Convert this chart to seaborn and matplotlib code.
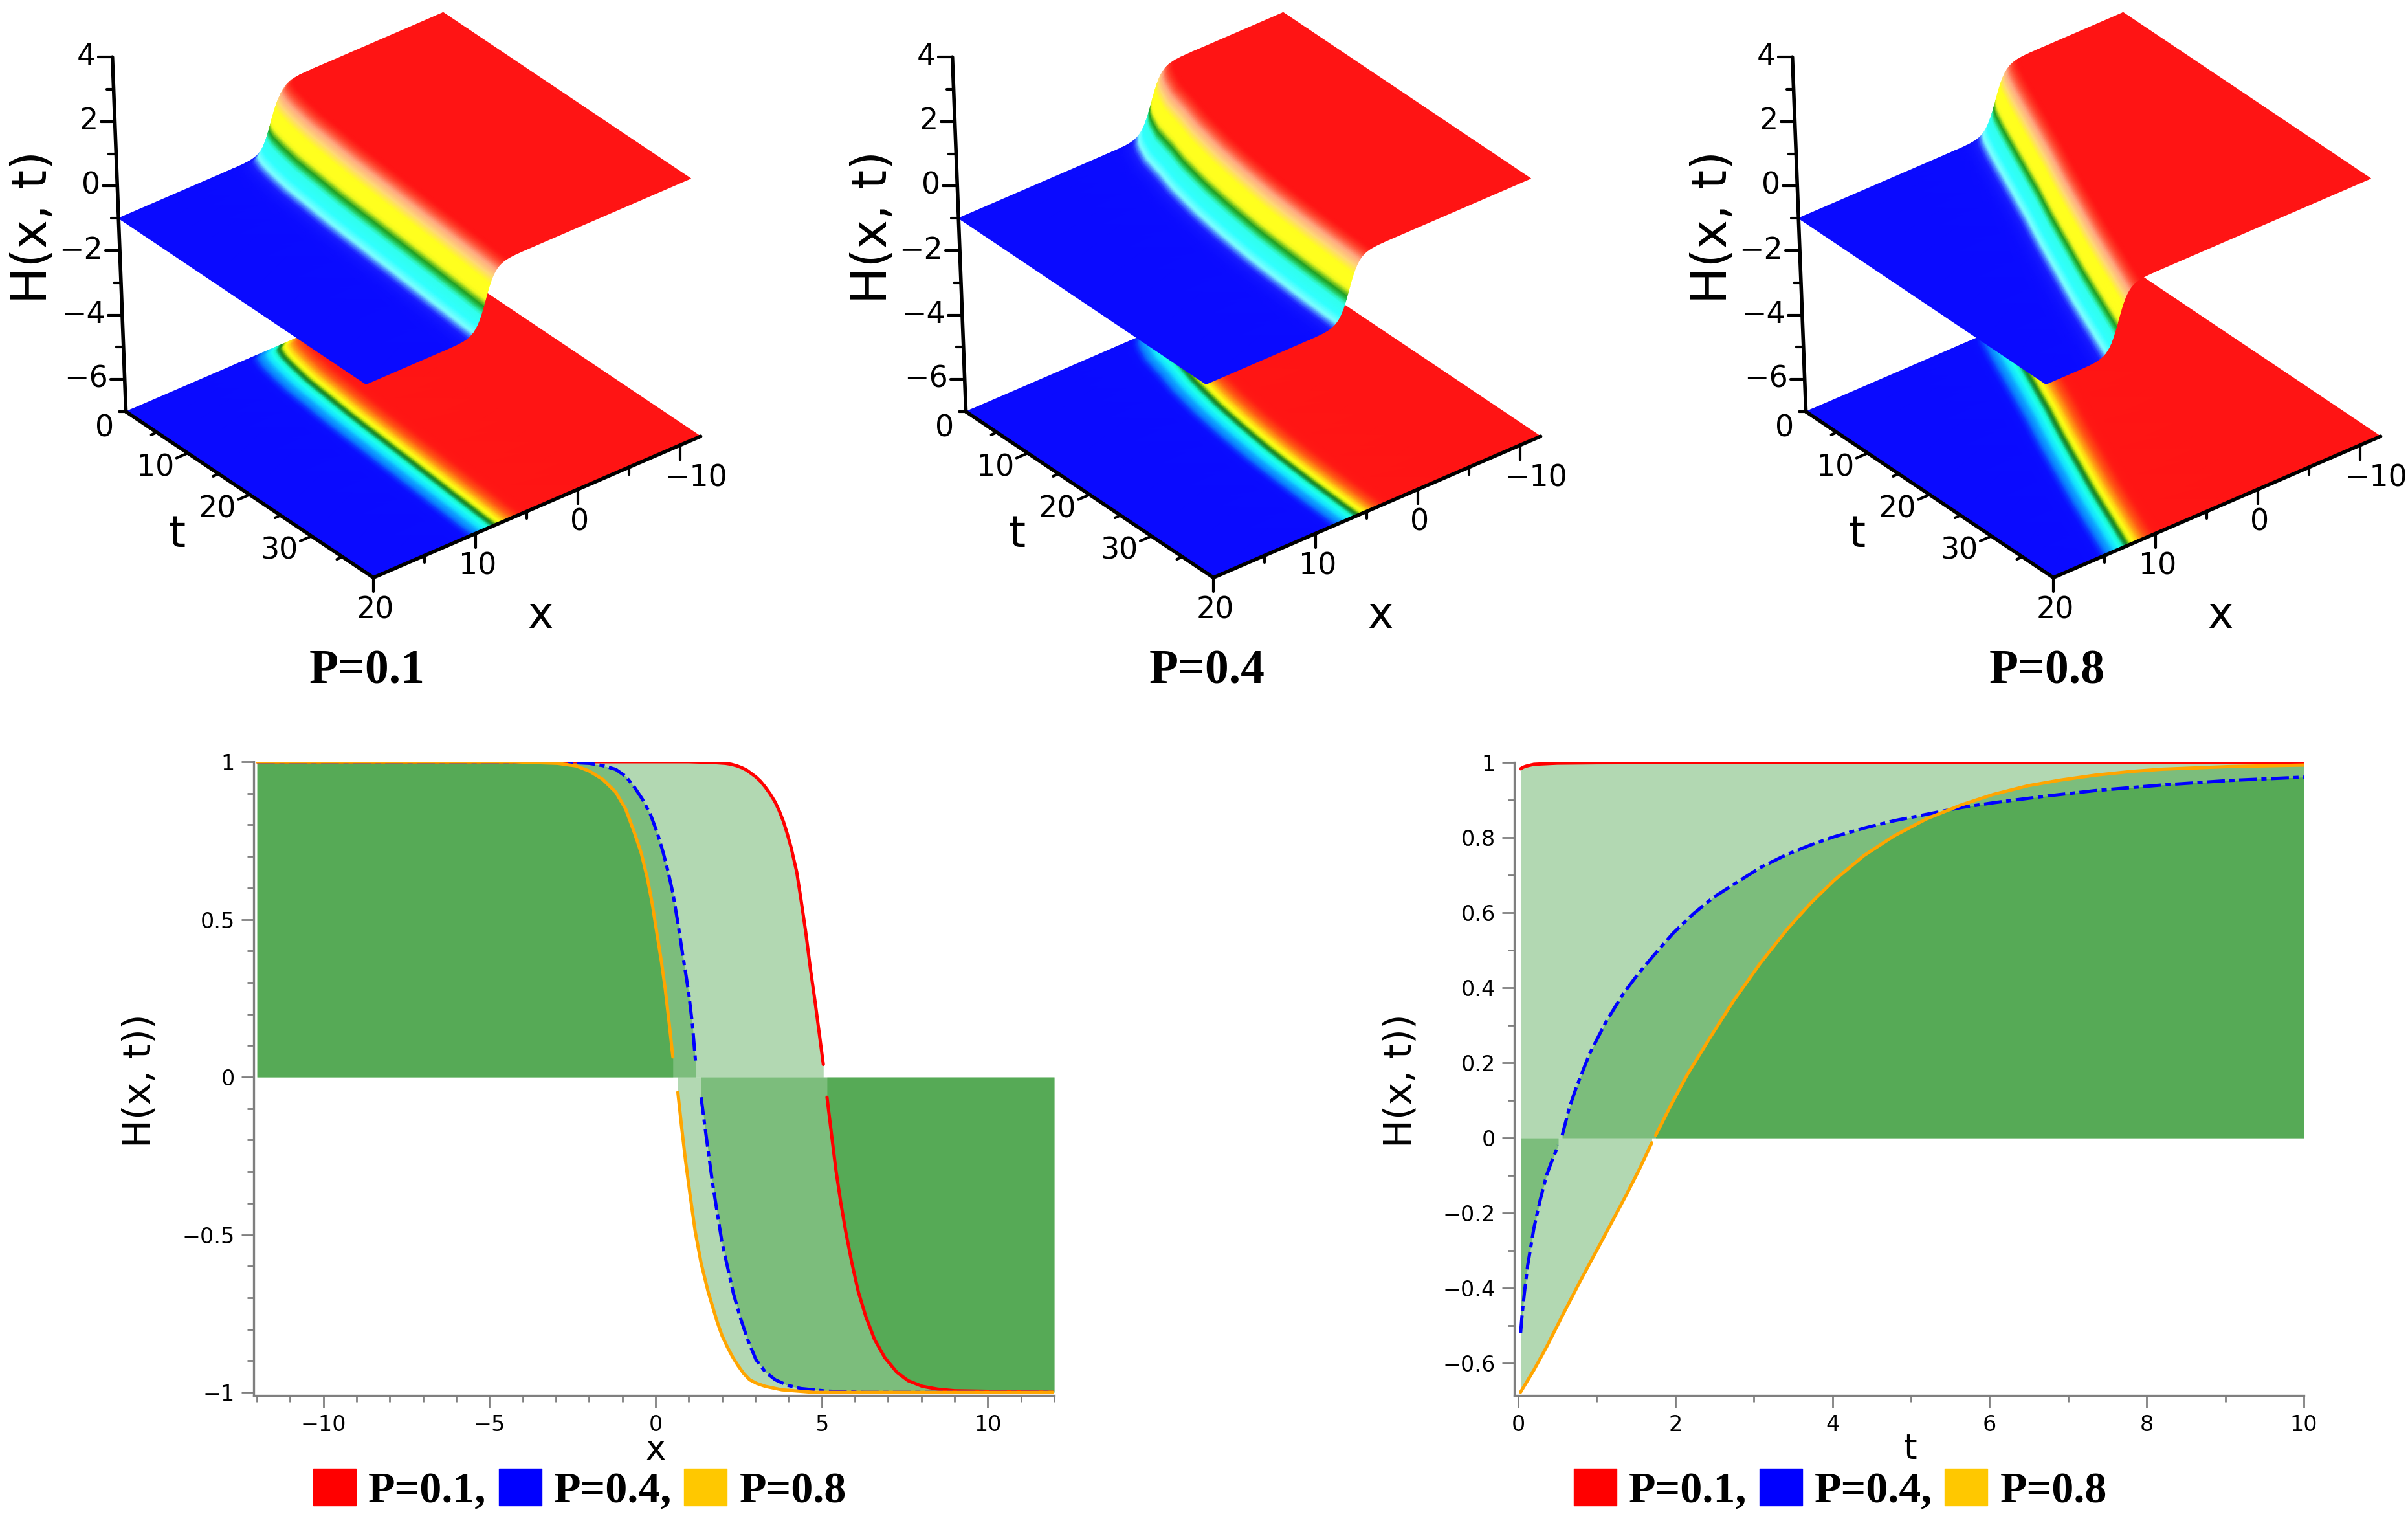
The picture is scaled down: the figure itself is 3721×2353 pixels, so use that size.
import numpy as np
import matplotlib
matplotlib.use('Agg')
import matplotlib.pyplot as plt
import seaborn as sns
from matplotlib.colors import LinearSegmentedColormap
from matplotlib.patches import Patch
from matplotlib.ticker import MultipleLocator

# ---- data ----
P_labels = ['P=0.1', 'P=0.4', 'P=0.8']

# front position x_c(t) of the surfaces
t_nodes = [0, 0.5, 1, 2, 4, 7, 10, 15, 20, 25, 30, 35, 40]
front_p01 = [4.8, 5.3, 5.5, 5.75, 6.05, 6.4, 6.6, 6.95, 7.2, 7.45, 7.7, 7.95, 8.2]
front_p04 = [1.0, 1.3, 1.6, 2.0, 2.6, 3.1, 3.7, 4.4, 4.9, 5.3, 5.55, 5.75, 5.9]
front_p08 = [0.6, 0.85, 1.1, 1.45, 2.1, 3.0, 3.9, 5.4, 7.0, 8.5, 10.0, 11.4, 12.8]

# step shape around the front
step_offset = [-4, -3.5, -3, -2.75, -2.5, -2.25, -2, -1.8, -1.6, -1.5, -1.4, -1.3, -1.2, -1.1, -1, -0.9, -0.8, -0.7,
               -0.6, -0.5, -0.4, -0.3, -0.2, -0.1, 0, 0.1, 0.2, 0.3, 0.4, 0.5, 0.6, 0.7, 0.8, 0.9, 1, 1.1, 1.2, 1.3,
               1.4, 1.5, 1.6, 1.8, 2, 2.25, 2.5, 2.75, 3, 3.5, 4]
step_H = [0.998, 0.996, 0.991, 0.986, 0.978, 0.966, 0.947, 0.925, 0.894, 0.874, 0.851, 0.824, 0.793, 0.757, 0.716,
          0.67, 0.617, 0.558, 0.493, 0.422, 0.345, 0.264, 0.178, 0.09, 0, -0.09, -0.178, -0.264, -0.345, -0.422,
          -0.493, -0.558, -0.617, -0.67, -0.716, -0.757, -0.793, -0.824, -0.851, -0.874, -0.894, -0.925, -0.947,
          -0.966, -0.978, -0.986, -0.991, -0.996, -0.998]

# profile at fixed t (left plot), split where the curves break at H=0
x_red_up = [-12, 1, 1.68, 2.1, 2.28, 2.45, 2.6, 2.75, 2.88, 3.02, 3.16, 3.3, 3.45, 3.6, 3.72, 3.85, 3.96, 4.08, 4.25, 4.37, 4.52, 4.66, 4.8, 4.91, 5.05]
h_red_up = [1, 1, 0.998, 0.995, 0.992, 0.987, 0.981, 0.973, 0.963, 0.952, 0.938, 0.92, 0.898, 0.872, 0.845, 0.81, 0.773, 0.728, 0.65, 0.568, 0.46, 0.344, 0.24, 0.152, 0.04]
x_red_lo = [5.16, 5.3, 5.43, 5.57, 5.72, 5.9, 6.1, 6.33, 6.59, 6.9, 7.26, 7.6, 8.03, 8.5, 9, 12]
h_red_lo = [-0.064, -0.185, -0.296, -0.395, -0.488, -0.585, -0.68, -0.76, -0.832, -0.89, -0.936, -0.963, -0.981, -0.99, -0.995, -1]

x_blue_up = [-12, -2.95, -2, -1.6, -1.2, -0.9, -0.64, -0.4, -0.15, 0.05, 0.23, 0.38, 0.52, 0.67, 0.81, 0.92, 1.0, 1.11, 1.21]
h_blue_up = [1, 1, 0.995, 0.988, 0.976, 0.954, 0.92, 0.882, 0.832, 0.775, 0.712, 0.65, 0.584, 0.49, 0.392, 0.32, 0.264, 0.165, 0.04]
x_blue_lo = [1.37, 1.47, 1.58, 1.72, 1.87, 2.0, 2.16, 2.34, 2.54, 2.78, 3.02, 3.3, 3.6, 3.95, 4.37, 5.14, 6.3, 12]
h_blue_lo = [-0.064, -0.145, -0.232, -0.34, -0.44, -0.525, -0.6, -0.685, -0.76, -0.835, -0.896, -0.935, -0.96, -0.977, -0.988, -0.996, -1, -1]

x_orange_up = [-12, -4.3, -2.95, -2.4, -2, -1.6, -1.2, -0.9, -0.64, -0.43, -0.25, -0.1, 0.04, 0.17, 0.29, 0.41, 0.52]
h_orange_up = [1, 1, 0.995, 0.987, 0.971, 0.945, 0.904, 0.85, 0.776, 0.71, 0.632, 0.55, 0.456, 0.37, 0.28, 0.17, 0.064]
x_orange_lo = [0.67, 0.78, 0.9, 1.04, 1.19, 1.37, 1.58, 1.85, 2.0, 2.16, 2.32, 2.48, 2.65, 2.83, 3.05, 3.3, 3.8, 4.76, 12]
h_orange_lo = [-0.048, -0.155, -0.264, -0.375, -0.488, -0.59, -0.68, -0.775, -0.82, -0.856, -0.888, -0.915, -0.94, -0.96, -0.972, -0.981, -0.992, -1, -1]

# profile at fixed x (right plot)
t_red = [0.03, 0.06, 0.1, 0.2, 0.5, 1, 3, 10]
h_red = [0.983, 0.987, 0.99, 0.995, 0.998, 0.999, 1, 1]

t_blue_lo = [0.03, 0.05, 0.08, 0.12, 0.2, 0.28, 0.36, 0.44, 0.51]
h_blue_lo_t = [-0.52, -0.47, -0.41, -0.34, -0.24, -0.165, -0.10, -0.055, -0.02]
t_blue_up = [0.56, 0.65, 0.74, 0.91, 1.12, 1.34, 1.52, 1.72, 1.97, 2.23, 2.48, 2.74, 3.08, 3.42, 3.72, 4.02, 4.4, 4.79, 5.2, 5.64, 6.06, 6.7, 7.34, 8.2, 9.05, 10]
h_blue_up_t = [0.007, 0.08, 0.135, 0.225, 0.31, 0.385, 0.435, 0.485, 0.545, 0.597, 0.64, 0.675, 0.72, 0.755, 0.78, 0.802, 0.825, 0.845, 0.862, 0.88, 0.893, 0.91, 0.925, 0.94, 0.952, 0.961]

t_orange_lo = [0.03, 0.2, 0.36, 0.57, 0.78, 1.08, 1.38, 1.55, 1.7]
h_orange_lo_t = [-0.677, -0.618, -0.557, -0.47, -0.385, -0.268, -0.15, -0.08, -0.013]
t_orange_up = [1.75, 1.95, 2.15, 2.45, 2.74, 3.08, 3.42, 3.72, 4.02, 4.4, 4.79, 5.2, 5.64, 6.05, 6.49, 6.9, 7.34, 7.8, 8.2, 9.05, 10]
h_orange_up_t = [0.007, 0.09, 0.168, 0.27, 0.365, 0.465, 0.555, 0.625, 0.686, 0.752, 0.805, 0.85, 0.887, 0.915, 0.938, 0.953, 0.966, 0.976, 0.982, 0.989, 0.993]

x_tick_labels = [-10, -5, 0, 5, 10]
h_ticks_left = [-1, -0.5, 0, 0.5, 1]
h_ticks_right = [-0.6, -0.4, -0.2, 0, 0.2, 0.4, 0.6, 0.8, 1]
t_ticks_right = [0, 2, 4, 6, 8, 10]

# ---- style ----
W, H_px = 3721, 2353
sns.set_theme(style='ticks')
plt.rcParams['font.family'] = ['DejaVu Sans']
fig = plt.figure(figsize=(W / 100, H_px / 100), dpi=100)

anchors_top = [(-1, (10, 10, 255)), (-0.94, (25, 30, 255)), (-0.84, (128, 255, 255)), (-0.68, (48, 255, 255)),
               (-0.4, (48, 255, 235)), (-0.3, (40, 225, 130)), (-0.24, (30, 175, 60)), (-0.19, (25, 155, 35)),
               (-0.13, (70, 175, 30)), (-0.05, (210, 240, 30)), (0.03, (255, 255, 30)), (0.42, (255, 255, 30)),
               (0.62, (255, 215, 120)), (0.78, (255, 170, 130)), (0.92, (255, 60, 40)), (0.97, (255, 20, 20)), (1, (255, 20, 20))]
anchors_floor = [(-1, (10, 10, 255)), (-0.985, (10, 15, 255)), (-0.94, (10, 130, 255)), (-0.78, (20, 225, 255)),
                 (-0.58, (30, 255, 245)), (-0.36, (25, 250, 205)), (-0.18, (20, 175, 100)), (-0.06, (25, 140, 55)),
                 (0.04, (25, 135, 35)), (0.14, (70, 165, 20)), (0.35, (220, 240, 20)), (0.52, (255, 255, 20)),
                 (0.72, (255, 205, 20)), (0.87, (255, 130, 20)), (0.96, (255, 60, 20)), (0.985, (255, 25, 20)), (1, (255, 20, 20))]


def make_cmap(name, anchors):
    return LinearSegmentedColormap.from_list(
        name, [((h + 1) / 2, tuple(c / 255 for c in rgb)) for h, rgb in anchors], N=1024)


cmap_top = make_cmap('top', anchors_top)
cmap_floor = make_cmap('floor', anchors_floor)


# maple style box: pixel position inside a panel for a point (x, t, z)
def project(x, t, z):
    u = 20 - np.asarray(x, dtype=float)
    t = np.asarray(t, dtype=float)
    dz = np.asarray(z, dtype=float) + 7
    return 194.6 + u * 15.8 + t * 9.56 - dz * 1.9, 636 - u * 6.82 + t * 6.41 - dz * 49.8


def draw_surface(left, front, title):
    ax = fig.add_axes([left / W, 1 - 1100 / H_px, 1125 / W, 1100 / H_px])
    ax.set_xlim(0, 1125)
    ax.set_ylim(1100, 0)
    ax.set_axis_off()

    xs = np.array([np.r_[-12, c + np.array(step_offset), 20] for c in front])
    hs = np.array([np.r_[1, step_H, -1] for c in front])
    ts = np.array([[t] * xs.shape[1] for t in t_nodes])

    # floor picture first, surface on top
    sx, sy = project(xs, ts, -7 * np.ones_like(xs))
    ax.pcolormesh(sx, sy, hs, cmap=cmap_floor, vmin=-1, vmax=1, shading='gouraud', zorder=1)
    sx, sy = project(xs, ts, hs)
    ax.pcolormesh(sx, sy, hs, cmap=cmap_top, vmin=-1, vmax=1, shading='gouraud', zorder=2)

    # box axes
    lw = 4
    for a, b in [((20, 0, -7), (20, 40, -7)), ((20, 40, -7), (-12, 40, -7)), ((20, 0, -7), (20, 0, 4))]:
        pa, pb = project(*a), project(*b)
        ax.plot([pa[0], pb[0]], [pa[1], pb[1]], color='black', lw=lw, zorder=3, solid_capstyle='round')

    for z in range(-7, 5):
        px, py = project(20, 0, z)
        ax.plot([px - (22 if z % 2 == 0 else 11), px], [py, py], color='black', lw=3, zorder=1.5)
        if z % 2 == 0:
            lab = str(z).replace('-', '\u2212')
            ax.text(px - 26, py, lab, ha='right', va='center', fontsize=33, color='black')

    for xt in [20, 15, 10, 5, 0, -5, -10]:
        major = xt % 10 == 0
        px, py = project(xt, 40, -7)
        ax.plot([px, px], [py, py + (22 if major else 11)], color='black', lw=3, zorder=3)
        if major:
            lab = str(xt).replace('-', '\u2212')
            ax.text(px + (24 if xt < 0 else 3), py + 51, lab, ha='center', va='center', fontsize=33, color='black')

    for tt in [5, 10, 15, 20, 25, 30, 35]:
        major = tt % 10 == 0
        px, py = project(20, tt, -7)
        k = 1.1 if major else 0.55
        ax.plot([px, px - 15.8 * k], [py, py + 6.82 * k], color='black', lw=3, zorder=3)
        if major:
            ax.text(px - 50, py + 23, str(tt), ha='center', va='center', fontsize=33, color='black')
    px, py = project(20, 0, -7)
    ax.text(px - 33, py + 26, '0', ha='center', va='center', fontsize=33, color='black')

    ax.text(273, 826, 't', ha='center', va='center', fontsize=48, color='black')
    ax.text(835, 951, 'x', ha='center', va='center', fontsize=48, color='black')
    ax.text(52, 351, 'H(x, t)', rotation=90, ha='center', va='center', fontsize=54, color='black')
    ax.text(567, 1038, title, ha='center', va='center', fontsize=53, fontweight='bold',
            family='Liberation Serif', color='black')
    return ax


for left, front, title in zip([0, 1298, 2596], [front_p01, front_p04, front_p08], P_labels):
    draw_surface(left, front, title)


# ---- 2d plots ----
def curve(ax, xv, yv):
    ax.fill_between(xv, yv, 0, color='#008000', alpha=0.3, lw=0)


def line(ax, xv, yv, color, ls='-', lw=3.6):
    sns.lineplot(x=xv, y=yv, ax=ax, color=color, linestyle=ls, linewidth=lw, sort=False,
                 estimator=None, errorbar=None, legend=False)


def style_axis(ax):
    sns.despine(ax=ax)
    for s in ['left', 'bottom']:
        ax.spines[s].set_color('#7f7f7f')
        ax.spines[s].set_linewidth(2.4)
    ax.tick_params(which='major', length=14, width=2, color='#7f7f7f', labelsize=24, pad=7, labelcolor='black')
    ax.tick_params(which='minor', length=7, width=2, color='#7f7f7f')
    ax.set_xlabel('')
    ax.set_ylabel('')


def make_axes(l, r, t, b):
    return fig.add_axes([l / W, 1 - b / H_px, (r - l) / W, (b - t) / H_px])


DASHDOT = (0, (5.5, 1.4, 1.6, 1.4))

ax_x = make_axes(392, 1629, 1177, 2156)
for xv, yv in [(x_red_up, h_red_up), (x_red_lo, h_red_lo), (x_blue_up, h_blue_up), (x_blue_lo, h_blue_lo),
               (x_orange_up, h_orange_up), (x_orange_lo, h_orange_lo)]:
    curve(ax_x, xv, yv)
line(ax_x, x_red_up, h_red_up, '#FF0000')
line(ax_x, x_red_lo, h_red_lo, '#FF0000')
line(ax_x, x_blue_up, h_blue_up, '#0000FF', DASHDOT)
line(ax_x, x_blue_lo, h_blue_lo, '#0000FF', DASHDOT)
line(ax_x, x_orange_up, h_orange_up, '#FFA500')
line(ax_x, x_orange_lo, h_orange_lo, '#FFA500')
ax_x.set_xlim(-12.1, 12)
ax_x.set_ylim(-1.01, 1)
style_axis(ax_x)
ax_x.set_xticks(x_tick_labels)
ax_x.set_xticklabels([str(v).replace('-', '\u2212') for v in x_tick_labels])
ax_x.set_yticks(h_ticks_left)
ax_x.set_yticklabels(['\u22121', '\u22120.5', '0', '0.5', '1'])
ax_x.xaxis.set_minor_locator(MultipleLocator(1))
ax_x.yaxis.set_minor_locator(MultipleLocator(0.1))

ax_t = make_axes(2340, 3560, 1178, 2156)
for xv, yv in [(t_red, h_red), (t_blue_lo, h_blue_lo_t), (t_blue_up, h_blue_up_t),
               (t_orange_lo, h_orange_lo_t), (t_orange_up, h_orange_up_t)]:
    curve(ax_t, xv, yv)
line(ax_t, t_red, h_red, '#FF0000')
line(ax_t, t_blue_lo, h_blue_lo_t, '#0000FF', DASHDOT)
line(ax_t, t_blue_up, h_blue_up_t, '#0000FF', DASHDOT)
line(ax_t, t_orange_lo, h_orange_lo_t, '#FFA500')
line(ax_t, t_orange_up, h_orange_up_t, '#FFA500')
ax_t.set_xlim(-0.05, 10)
ax_t.set_ylim(-0.686, 1)
style_axis(ax_t)
ax_t.set_xticks(t_ticks_right)
ax_t.set_yticks(h_ticks_right)
ax_t.set_yticklabels(['\u22120.6', '\u22120.4', '\u22120.2', '0', '0.2', '0.4', '0.6', '0.8', '1'])
ax_t.xaxis.set_minor_locator(MultipleLocator(1))
ax_t.yaxis.set_minor_locator(MultipleLocator(0.1))

fig.text(1013 / W, 1 - 2240 / H_px, 'x', ha='center', va='center', fontsize=38, color='black')
fig.text(2952 / W, 1 - 2238 / H_px, 't', ha='center', va='center', fontsize=38, color='black')
fig.text(216 / W, 1 - 1670 / H_px, 'H(x, t))', rotation=90, ha='center', va='center', fontsize=42, color='black')
fig.text(2164 / W, 1 - 1670 / H_px, 'H(x, t))', rotation=90, ha='center', va='center', fontsize=42, color='black')

# legends under the two plots
for cx in [896, 2844]:
    handles = [Patch(color='#FF0000'), Patch(color='#0000FF'), Patch(color='#FFC800')]
    fig.legend(handles, ['P=0.1,', 'P=0.4,', 'P=0.8'], loc='center', bbox_to_anchor=(cx / W, 1 - 2302 / H_px),
               ncol=3, frameon=False, handlelength=0.97, handleheight=0.92, handletextpad=0.28, columnspacing=0.28,
               labelcolor='black', prop={'family': 'Liberation Serif', 'weight': 'bold', 'size': 49})

fig.savefig('out.png', dpi=100, facecolor='white')
